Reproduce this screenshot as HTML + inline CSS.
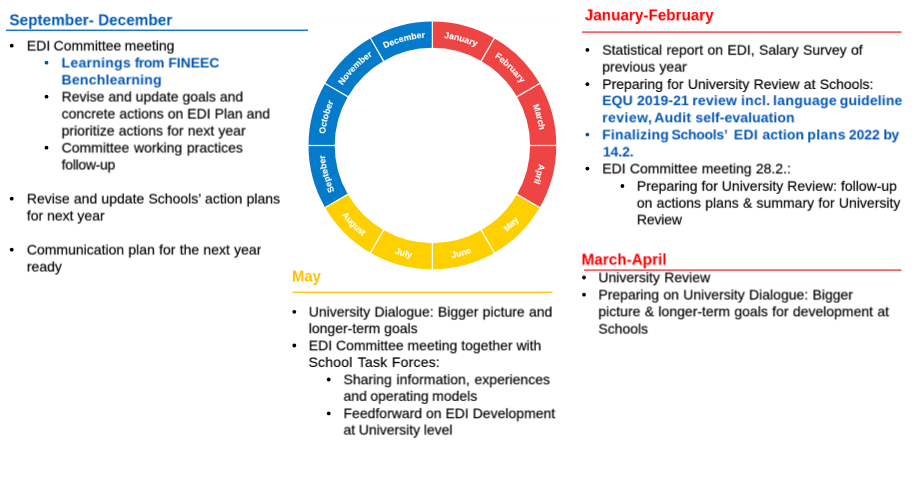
<!DOCTYPE html>
<html lang="en"><head><meta charset="utf-8"><title>EDI annual clock</title>
<style>
html,body{margin:0;padding:0;background:#fff;}
body{width:914px;height:479px;position:relative;overflow:hidden;font-family:"Liberation Sans",Arial,sans-serif;color:#000;}
.l,.h{position:absolute;white-space:nowrap;transform-origin:0 0;will-change:transform;filter:blur(0.5px);}
.l{font-size:28px;line-height:34px;height:34px;-webkit-text-stroke:0.3px currentColor;}
.b{color:#0456b5;font-weight:bold;-webkit-text-stroke-width:0;}
.l span{position:absolute;top:0;left:0;}
.h{font-size:32px;line-height:40px;height:40px;font-weight:bold;}
svg{position:absolute;left:0;top:0;filter:blur(0.35px);}
svg text{font-family:"Liberation Sans",Arial,sans-serif;font-weight:bold;font-size:8.7px;fill:#fff;fill-opacity:0.95;stroke:#fff;stroke-width:0.15px;stroke-opacity:0.9;text-anchor:middle;}
</style></head><body>
<svg width="914" height="479" viewBox="0 0 914 479">
<rect x="307.6" y="19.9" width="250.3" height="1.3" fill="#fcfcfc"/>
<rect x="6" y="29.55" width="302" height="1.5" fill="#1b74d0"/>
<rect x="582" y="31.30" width="319.5" height="1.6" fill="#f4555f"/>
<rect x="584" y="269.30" width="317.5" height="1.6" fill="#f4555f"/>
<rect x="292.6" y="291.55" width="259.9" height="1.5" fill="#ffc820"/>
<circle cx="11.70" cy="45.70" r="1.9" fill="#000"/>
<circle cx="46.50" cy="62.70" r="1.9" fill="#0456b5"/>
<circle cx="46.50" cy="96.70" r="1.9" fill="#000"/>
<circle cx="46.50" cy="147.70" r="1.9" fill="#000"/>
<circle cx="11.70" cy="198.70" r="1.9" fill="#000"/>
<circle cx="11.70" cy="249.70" r="1.9" fill="#000"/>
<circle cx="587.40" cy="49.90" r="1.9" fill="#000"/>
<circle cx="587.40" cy="84.20" r="1.9" fill="#000"/>
<circle cx="587.40" cy="134.60" r="1.9" fill="#0456b5"/>
<circle cx="587.40" cy="168.60" r="1.9" fill="#000"/>
<circle cx="622.40" cy="186.00" r="1.9" fill="#000"/>
<circle cx="584.00" cy="277.50" r="1.9" fill="#000"/>
<circle cx="584.00" cy="294.70" r="1.9" fill="#000"/>
<circle cx="294.30" cy="311.80" r="1.9" fill="#000"/>
<circle cx="294.30" cy="345.50" r="1.9" fill="#000"/>
<circle cx="328.70" cy="379.50" r="1.9" fill="#000"/>
<circle cx="328.70" cy="413.40" r="1.9" fill="#000"/>
<path d="M432.40 21.60A123.9 123.9 0 0 1 494.35 38.20L481.25 60.89A97.7 97.7 0 0 0 432.40 47.80Z" fill="#ef4444"/>
<path d="M494.35 38.20A123.9 123.9 0 0 1 539.70 83.55L517.01 96.65A97.7 97.7 0 0 0 481.25 60.89Z" fill="#ef4444"/>
<path d="M539.70 83.55A123.9 123.9 0 0 1 556.30 145.50L530.10 145.50A97.7 97.7 0 0 0 517.01 96.65Z" fill="#ef4444"/>
<path d="M556.30 145.50A123.9 123.9 0 0 1 539.70 207.45L517.01 194.35A97.7 97.7 0 0 0 530.10 145.50Z" fill="#ef4444"/>
<path d="M539.70 207.45A123.9 123.9 0 0 1 494.35 252.80L481.25 230.11A97.7 97.7 0 0 0 517.01 194.35Z" fill="#ffd000"/>
<path d="M494.35 252.80A123.9 123.9 0 0 1 432.40 269.40L432.40 243.20A97.7 97.7 0 0 0 481.25 230.11Z" fill="#ffd000"/>
<path d="M432.40 269.40A123.9 123.9 0 0 1 370.45 252.80L383.55 230.11A97.7 97.7 0 0 0 432.40 243.20Z" fill="#ffd000"/>
<path d="M370.45 252.80A123.9 123.9 0 0 1 325.10 207.45L347.79 194.35A97.7 97.7 0 0 0 383.55 230.11Z" fill="#ffd000"/>
<path d="M325.10 207.45A123.9 123.9 0 0 1 308.50 145.50L334.70 145.50A97.7 97.7 0 0 0 347.79 194.35Z" fill="#047aca"/>
<path d="M308.50 145.50A123.9 123.9 0 0 1 325.10 83.55L347.79 96.65A97.7 97.7 0 0 0 334.70 145.50Z" fill="#047aca"/>
<path d="M325.10 83.55A123.9 123.9 0 0 1 370.45 38.20L383.55 60.89A97.7 97.7 0 0 0 347.79 96.65Z" fill="#047aca"/>
<path d="M370.45 38.20A123.9 123.9 0 0 1 432.40 21.60L432.40 47.80A97.7 97.7 0 0 0 383.55 60.89Z" fill="#047aca"/>
<line x1="432.40" y1="21.10" x2="432.40" y2="48.30" stroke="#fff" stroke-width="1.25"/>
<line x1="494.60" y1="37.77" x2="481.00" y2="61.32" stroke="#fff" stroke-width="1.25"/>
<line x1="540.13" y1="83.30" x2="516.58" y2="96.90" stroke="#fff" stroke-width="1.25"/>
<line x1="556.80" y1="145.50" x2="529.60" y2="145.50" stroke="#fff" stroke-width="1.25"/>
<line x1="540.13" y1="207.70" x2="516.58" y2="194.10" stroke="#fff" stroke-width="1.25"/>
<line x1="494.60" y1="253.23" x2="481.00" y2="229.68" stroke="#fff" stroke-width="1.25"/>
<line x1="432.40" y1="269.90" x2="432.40" y2="242.70" stroke="#fff" stroke-width="1.25"/>
<line x1="370.20" y1="253.23" x2="383.80" y2="229.68" stroke="#fff" stroke-width="1.25"/>
<line x1="324.67" y1="207.70" x2="348.22" y2="194.10" stroke="#fff" stroke-width="1.25"/>
<line x1="308.00" y1="145.50" x2="335.20" y2="145.50" stroke="#fff" stroke-width="1.25"/>
<line x1="324.67" y1="83.30" x2="348.22" y2="96.90" stroke="#fff" stroke-width="1.25"/>
<line x1="370.20" y1="37.77" x2="383.80" y2="61.32" stroke="#fff" stroke-width="1.25"/>
<defs>
<path id="m0" d="M432.40 37.51A107.99 107.99 0 0 1 486.39 51.98"/>
<path id="m1" d="M486.39 51.98A107.99 107.99 0 0 1 525.92 91.51"/>
<path id="m2" d="M525.92 91.51A107.99 107.99 0 0 1 540.39 145.50"/>
<path id="m3" d="M540.39 145.50A107.99 107.99 0 0 1 525.92 199.49"/>
<path id="m4" d="M489.51 244.41A114.21 114.21 0 0 0 531.31 202.61"/>
<path id="m5" d="M432.40 259.71A114.21 114.21 0 0 0 489.51 244.41"/>
<path id="m6" d="M375.29 244.41A114.21 114.21 0 0 0 432.40 259.71"/>
<path id="m7" d="M333.49 202.61A114.21 114.21 0 0 0 375.29 244.41"/>
<path id="m8" d="M338.88 199.49A107.99 107.99 0 0 1 324.41 145.50"/>
<path id="m9" d="M324.41 145.50A107.99 107.99 0 0 1 338.88 91.51"/>
<path id="m10" d="M338.88 91.51A107.99 107.99 0 0 1 378.41 51.98"/>
<path id="m11" d="M378.41 51.98A107.99 107.99 0 0 1 432.40 37.51"/>
</defs>
<text><textPath href="#m0" startOffset="50%">January</textPath></text>
<text><textPath href="#m1" startOffset="50%">February</textPath></text>
<text><textPath href="#m2" startOffset="50%">March</textPath></text>
<text><textPath href="#m3" startOffset="50%">April</textPath></text>
<text><textPath href="#m4" startOffset="50%">May</textPath></text>
<text><textPath href="#m5" startOffset="50%">June</textPath></text>
<text><textPath href="#m6" startOffset="50%">July</textPath></text>
<text><textPath href="#m7" startOffset="50%">August</textPath></text>
<text><textPath href="#m8" startOffset="50%">Septeber</textPath></text>
<text><textPath href="#m9" startOffset="50%">October</textPath></text>
<text><textPath href="#m10" startOffset="50%">November</textPath></text>
<text><textPath href="#m11" startOffset="50%">December</textPath></text>
</svg>
<div class="h" id="h0" style="left:9px;top:9px;color:#035bbb;transform:translate(0.40px,0.80px) scale(0.4793,0.5) rotate(0.01deg)">September- December</div>
<div class="h" id="h1" style="left:584px;top:4px;color:#ff0000;transform:translate(0.80px,0.90px) scale(0.4765,0.5) rotate(0.01deg)">January-February</div>
<div class="h" id="h2" style="left:581px;top:249px;color:#ff0000;transform:translate(0.50px,0.30px) scale(0.4781,0.5) rotate(0.01deg)">March-April</div>
<div class="h" id="h3" style="left:291px;top:266px;color:#ffc000;transform:translate(0.90px,0.10px) scale(0.4643,0.5) rotate(0.01deg)">May</div>
<div class="l" id="l0" style="left:26px;top:37px;transform:translate(0.80px,0.50px) scale(0.5) rotate(0.01deg);word-spacing:-1.01px">EDI Committee meeting</div>
<div class="l b" id="l1" style="left:61px;top:54px;transform:translate(0.60px,0.50px) scale(0.5) rotate(0.01deg);width:322px"><span style="left:-0.20px;letter-spacing:0.58px">Learnings</span> <span style="left:146.20px;letter-spacing:-0.93px">from</span> <span style="left:213.40px;letter-spacing:-0.12px">FINEEC</span></div>
<div class="l b" id="l2" style="left:61px;top:71px;transform:translate(0.60px,0.50px) scale(0.5) rotate(0.01deg);width:207px"><span style="left:-0.20px;letter-spacing:0.48px">Benchlearning</span></div>
<div class="l" id="l3" style="left:61px;top:88px;transform:translate(0.60px,0.50px) scale(0.5) rotate(0.01deg);word-spacing:0.12px">Revise and update goals and</div>
<div class="l" id="l4" style="left:61px;top:105px;transform:translate(0.60px,0.50px) scale(0.5) rotate(0.01deg);word-spacing:0.24px">concrete actions on EDI Plan and</div>
<div class="l" id="l5" style="left:61px;top:122px;transform:translate(0.60px,0.50px) scale(0.5) rotate(0.01deg);word-spacing:0.57px">prioritize actions for next year</div>
<div class="l" id="l6" style="left:61px;top:139px;transform:translate(0.60px,0.50px) scale(0.5) rotate(0.01deg);word-spacing:1.57px">Committee working practices</div>
<div class="l" id="l7" style="left:61px;top:156px;transform:translate(0.60px,0.50px) scale(0.5) rotate(0.01deg);letter-spacing:-0.58px">follow-up</div>
<div class="l" id="l8" style="left:26px;top:190px;transform:translate(0.80px,0.50px) scale(0.5) rotate(0.01deg);word-spacing:0.62px">Revise and update Schools’ action plans</div>
<div class="l" id="l9" style="left:26px;top:207px;transform:translate(0.80px,0.50px) scale(0.5) rotate(0.01deg);word-spacing:-0.02px">for next year</div>
<div class="l" id="l10" style="left:26px;top:241px;transform:translate(0.80px,0.50px) scale(0.5) rotate(0.01deg);word-spacing:0.73px">Communication plan for the next year</div>
<div class="l" id="l11" style="left:26px;top:258px;transform:translate(0.80px,0.50px) scale(0.5) rotate(0.01deg);letter-spacing:-0.01px">ready</div>
<div class="l" id="l12" style="left:602px;top:41px;transform:translate(0.30px,0.70px) scale(0.5) rotate(0.01deg);word-spacing:0.95px">Statistical report on EDI, Salary Survey of</div>
<div class="l" id="l13" style="left:602px;top:58px;transform:translate(0.30px,0.60px) scale(0.5) rotate(0.01deg);word-spacing:0.71px">previous year</div>
<div class="l" id="l14" style="left:602px;top:76px;transform:translate(0.30px,0.00px) scale(0.5) rotate(0.01deg);word-spacing:0.79px">Preparing for University Review at Schools:</div>
<div class="l b" id="l15" style="left:602px;top:92px;transform:translate(0.30px,0.20px) scale(0.5) rotate(0.01deg);width:608px"><span style="left:-0.30px;letter-spacing:0.25px">EQU</span> <span style="left:69.60px;letter-spacing:0.10px">2019-21</span> <span style="left:180.00px;letter-spacing:0.44px">review</span> <span style="left:277.60px;letter-spacing:0.50px">incl.</span> <span style="left:341.60px;letter-spacing:0.63px">language</span> <span style="left:475.00px;letter-spacing:0.28px">guideline</span></div>
<div class="l b" id="l16" style="left:602px;top:109px;transform:translate(0.30px,0.35px) scale(0.5) rotate(0.01deg);width:392px"><span style="left:-0.30px;letter-spacing:0.95px">review,</span> <span style="left:104.00px;letter-spacing:0.50px">Audit</span> <span style="left:186.20px;letter-spacing:0.17px">self-evaluation</span></div>
<div class="l b" id="l17" style="left:602px;top:126px;transform:translate(0.30px,0.40px) scale(0.5) rotate(0.01deg);width:600px"><span style="left:-0.30px;letter-spacing:0.48px">Finalizing</span> <span style="left:138.40px;letter-spacing:-0.57px">Schools’</span> <span style="left:263.00px;letter-spacing:0.70px">EDI</span> <span style="left:320.20px;letter-spacing:0.20px">action</span> <span style="left:410.00px;letter-spacing:0.85px">plans</span> <span style="left:493.20px;letter-spacing:-0.13px">2022</span> <span style="left:562.20px;letter-spacing:-1.00px">by</span></div>
<div class="l b" id="l18" style="left:602px;top:143px;transform:translate(0.30px,0.50px) scale(0.5) rotate(0.01deg);width:70px"><span style="left:1.20px;letter-spacing:-0.15px">14.2.</span></div>
<div class="l" id="l19" style="left:602px;top:160px;transform:translate(0.30px,0.40px) scale(0.5) rotate(0.01deg);word-spacing:0.72px">EDI Committee meeting 28.2.:</div>
<div class="l" id="l20" style="left:636px;top:177px;transform:translate(0.80px,0.80px) scale(0.5) rotate(0.01deg);word-spacing:0.11px">Preparing for University Review: follow-up</div>
<div class="l" id="l21" style="left:636px;top:194px;transform:translate(0.80px,0.70px) scale(0.5) rotate(0.01deg);word-spacing:0.69px">on actions plans &amp; summary for University</div>
<div class="l" id="l22" style="left:636px;top:211px;transform:translate(0.80px,0.40px) scale(0.5) rotate(0.01deg);letter-spacing:-0.32px">Review</div>
<div class="l" id="l23" style="left:598px;top:269px;transform:translate(0.40px,0.30px) scale(0.5) rotate(0.01deg);word-spacing:1.10px">University Review</div>
<div class="l" id="l24" style="left:598px;top:286px;transform:translate(0.40px,0.50px) scale(0.5) rotate(0.01deg);word-spacing:0.84px">Preparing on University Dialogue: Bigger</div>
<div class="l" id="l25" style="left:598px;top:303px;transform:translate(0.40px,0.30px) scale(0.5) rotate(0.01deg);word-spacing:0.92px">picture &amp; longer-term goals for development at</div>
<div class="l" id="l26" style="left:598px;top:320px;transform:translate(0.40px,0.60px) scale(0.5) rotate(0.01deg);letter-spacing:-0.04px">Schools</div>
<div class="l" id="l27" style="left:308px;top:303px;transform:translate(0.70px,0.60px) scale(0.5) rotate(0.01deg);word-spacing:0.79px">University Dialogue: Bigger picture and</div>
<div class="l" id="l28" style="left:308px;top:320px;transform:translate(0.70px,0.20px) scale(0.5) rotate(0.01deg);word-spacing:-0.08px">longer-term goals</div>
<div class="l" id="l29" style="left:308px;top:337px;transform:translate(0.70px,0.30px) scale(0.5) rotate(0.01deg);word-spacing:-0.03px">EDI Committee meeting together with</div>
<div class="l" id="l30" style="left:308px;top:354px;transform:translate(0.70px,0.00px) scale(0.5) rotate(0.01deg);width:268px"><span style="left:-0.50px;letter-spacing:0.44px">School</span> <span style="left:98.00px;letter-spacing:0.47px">Task</span> <span style="left:166.20px;letter-spacing:0.43px">Forces:</span></div>
<div class="l" id="l31" style="left:343px;top:371px;transform:translate(0.50px,0.30px) scale(0.5) rotate(0.01deg);word-spacing:1.83px">Sharing information, experiences</div>
<div class="l" id="l32" style="left:343px;top:387px;transform:translate(0.50px,0.80px) scale(0.5) rotate(0.01deg);word-spacing:-0.85px">and operating models</div>
<div class="l" id="l33" style="left:343px;top:405px;transform:translate(0.50px,0.20px) scale(0.5) rotate(0.01deg);word-spacing:0.02px">Feedforward on EDI Development</div>
<div class="l" id="l34" style="left:343px;top:421px;transform:translate(0.50px,0.60px) scale(0.5) rotate(0.01deg);word-spacing:-0.70px">at University level</div>
</body></html>
